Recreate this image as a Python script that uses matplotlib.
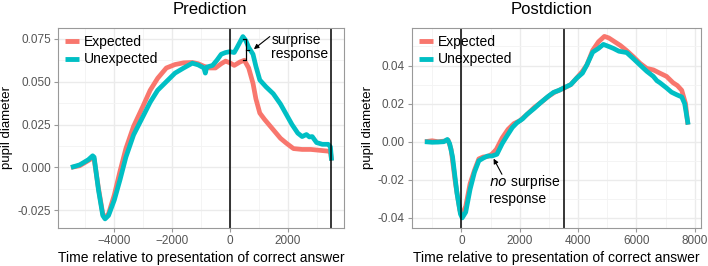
import matplotlib
matplotlib.use("Agg")
import matplotlib.pyplot as plt
from matplotlib.ticker import MultipleLocator

plt.rcParams['font.family'] = ['Liberation Sans', 'DejaVu Sans']

RED = '#F8766D'
TEAL = '#00BFC4'

# Prediction panel
pred_exp_x = [-5500, -5200, -4900, -4750, -4700, -4550, -4400, -4330, -4200, -4000,
              -3800, -3600, -3333, -3000, -2760, -2500, -2200, -1900, -1600, -1300,
              -1100, -900, -700, -500, -300, -150, 0, 150, 350, 500, 650, 800, 900,
              1035, 1200, 1500, 1750, 1950, 2200, 2500, 2800, 3100, 3400, 3480, 3520]
pred_exp_y = [0.000, 0.001, 0.004, 0.0055, 0.005, -0.012, -0.027, -0.0295, -0.027, -0.016,
              -0.002, 0.011, 0.024, 0.036, 0.045, 0.052, 0.058, 0.060, 0.061, 0.0612,
              0.0605, 0.059, 0.058, 0.058, 0.0605, 0.062, 0.061, 0.0595, 0.0615, 0.0625,
              0.058, 0.049, 0.040, 0.0317, 0.028, 0.022, 0.017, 0.0142, 0.011, 0.0105,
              0.0105, 0.010, 0.0095, 0.0092, 0.004]
pred_unx_x = [-5500, -5200, -4900, -4750, -4700, -4550, -4400, -4320, -4200, -4000,
              -3800, -3600, -3333, -3000, -2760, -2500, -2200, -1900, -1600, -1300,
              -1100, -900, -850, -800, -600, -450, -300, -150, 0, 150, 250, 450, 550,
              650, 800, 900, 1035, 1250, 1500, 1750, 1950, 2150, 2350, 2500, 2650,
              2750, 2850, 3000, 3200, 3400, 3480, 3520]
pred_unx_y = [0.000, 0.0015, 0.0045, 0.0068, 0.006, -0.013, -0.028, -0.030, -0.028, -0.019,
              -0.007, 0.006, 0.019, 0.030, 0.038, 0.045, 0.050, 0.055, 0.058, 0.0608,
              0.0598, 0.058, 0.055, 0.0585, 0.0595, 0.0625, 0.066, 0.067, 0.0675, 0.067,
              0.070, 0.0763, 0.074, 0.070, 0.066, 0.059, 0.051, 0.047, 0.043, 0.037,
              0.031, 0.025, 0.020, 0.018, 0.0192, 0.0178, 0.018, 0.0145, 0.0135, 0.0135,
              0.012, 0.004]

# Postdiction panel
post_exp_x = [-1250, -1000, -800, -600, -450, -350, -200, -50, 30, 150, 300, 450, 600,
              750, 900, 1050, 1200, 1400, 1600, 1800, 2000, 2250, 2500, 2700, 3000,
              3200, 3500, 3750, 3950, 4150, 4300, 4500, 4700, 4900, 5050, 5250, 5450,
              5650, 5900, 6120, 6350, 6580, 6800, 7030, 7250, 7400, 7550, 7680, 7760]
post_exp_y = [0.000, 0.0005, 0.000, 0.0003, 0.0008, -0.004, -0.022, -0.036, -0.038, -0.034,
              -0.022, -0.015, -0.009, -0.008, -0.0078, -0.0065, -0.004, 0.002, 0.0065,
              0.0095, 0.011, 0.0143, 0.018, 0.0203, 0.024, 0.026, 0.028, 0.030, 0.0334,
              0.037, 0.0403, 0.048, 0.0525, 0.0553, 0.0545, 0.0525, 0.0505, 0.048,
              0.0445, 0.0412, 0.0385, 0.0377, 0.036, 0.0343, 0.031, 0.0295, 0.027,
              0.020, 0.009]
post_unx_x = [-1250, -1000, -800, -600, -480, -400, -300, -150, -30, 30, 150, 300, 450,
              600, 763, 900, 1050, 1219, 1400, 1561, 1750, 1903, 2100, 2245, 2500, 2701,
              2950, 3157, 3350, 3500, 3750, 3954, 4150, 4300, 4500, 4700, 4866, 5050,
              5208, 5400, 5664, 5900, 6120, 6350, 6576, 6700, 6800, 7032, 7200, 7373,
              7550, 7650, 7770]
post_unx_y = [0.000, -0.0003, -0.0002, 0.000, 0.0012, -0.001, -0.008, -0.027, -0.038,
              -0.040, -0.037, -0.025, -0.016, -0.010, -0.0085, -0.0075, -0.0075, -0.0066,
              -0.001, 0.003, 0.0075, 0.0099, 0.012, 0.0143, 0.0175, 0.0203, 0.0235,
              0.0259, 0.027, 0.0282, 0.030, 0.0334, 0.036, 0.0403, 0.047, 0.049, 0.0511,
              0.050, 0.049, 0.0475, 0.0468, 0.0435, 0.0403, 0.037, 0.0343, 0.032, 0.031,
              0.0282, 0.026, 0.0247, 0.0235, 0.020, 0.009]

pred_vlines = [0, 3500]
post_vlines = [0, 3500]

fig = plt.figure(figsize=(7.08, 2.66), dpi=100)
ax1 = fig.add_axes([0.0819, 0.1429, 0.404, 0.7518])
ax2 = fig.add_axes([0.5815, 0.1429, 0.4082, 0.7518])


def style(ax, xmaj, ymaj):
    ax.xaxis.set_major_locator(MultipleLocator(xmaj))
    ax.xaxis.set_minor_locator(MultipleLocator(xmaj / 2))
    ax.yaxis.set_major_locator(MultipleLocator(ymaj))
    ax.yaxis.set_minor_locator(MultipleLocator(ymaj / 2))
    ax.grid(which='major', color='#EBEBEB', lw=1.0)
    ax.grid(which='minor', color='#F3F3F3', lw=0.6)
    ax.set_axisbelow(True)
    for s in ax.spines.values():
        s.set_color('#999999')
        s.set_linewidth(0.8)
    ax.tick_params(which='major', length=3, width=0.8, color='#999999',
                   labelsize=8.5, labelcolor='#555555', pad=2)
    ax.tick_params(which='minor', length=0)
    ax.set_xlabel('Time relative to presentation of correct answer', fontsize=10, labelpad=3)
    ax.set_ylabel('pupil diameter', fontsize=9.5, labelpad=3)


for ax, ex, ey, ux, uy, vl in [(ax1, pred_exp_x, pred_exp_y, pred_unx_x, pred_unx_y, pred_vlines),
                               (ax2, post_exp_x, post_exp_y, post_unx_x, post_unx_y, post_vlines)]:
    ax.plot(ex, ey, color=RED, lw=3.4, label='Expected', solid_capstyle='butt')
    ax.plot(ux, uy, color=TEAL, lw=3.4, label='Unexpected', solid_capstyle='butt')
    for v in vl:
        ax.axvline(v, color='black', lw=1.1)
    leg = ax.legend(loc='upper left', frameon=False, fontsize=10, handlelength=1.0,
                    handletextpad=0.4, labelspacing=0.25, borderaxespad=0.2,
                    borderpad=0.3)
    for h in leg.get_lines():
        h.set_linewidth(3.5)

ax1.set_xlim(-5950, 3950)
ax1.set_ylim(-0.0353, 0.0813)
style(ax1, 2000, 0.025)
ax1.yaxis.set_major_formatter(plt.FuncFormatter(lambda v, p: f'{v:.3f}'))

ax2.set_xlim(-1700, 8200)
ax2.set_ylim(-0.0453, 0.0597)
style(ax2, 2000, 0.02)
ax2.yaxis.set_major_formatter(plt.FuncFormatter(lambda v, p: f'{v:.2f}'))

fig.text(209.5 / 708, 1 - 10 / 266, 'Prediction', fontsize=12, ha='center', va='center')
fig.text(551.7 / 708, 1 - 10 / 266, 'Postdiction', fontsize=12, ha='center', va='center')

# surprise response bracket and arrow
bx, btop, bbot = 560, 0.075, 0.0625
ax1.plot([470, bx, bx, 470], [btop, btop, bbot, bbot], color='black', lw=0.9)
ax1.plot([bx, 650], [(btop + bbot) / 2] * 2, color='black', lw=0.9)
ax1.annotate('', xy=(830, 0.069), xytext=(1380, 0.0763),
             arrowprops=dict(arrowstyle='-|>', color='black', lw=0.8,
                             mutation_scale=7, shrinkA=0, shrinkB=0))
ax1.text(1440, 0.0705, 'surprise\nresponse', fontsize=10, ha='left', va='center',
         linespacing=1.0)

ax2.annotate('', xy=(1105, -0.0089), xytext=(1391, -0.0171),
             arrowprops=dict(arrowstyle='-|>', color='black', lw=0.8,
                             mutation_scale=7, shrinkA=0, shrinkB=0))
ax2.text(933, -0.0214, r'$\it{no}$ surprise', fontsize=10, ha='left', va='center')
ax2.text(933, -0.0301, 'response', fontsize=10, ha='left', va='center')

fig.savefig('out.png', dpi=100)
